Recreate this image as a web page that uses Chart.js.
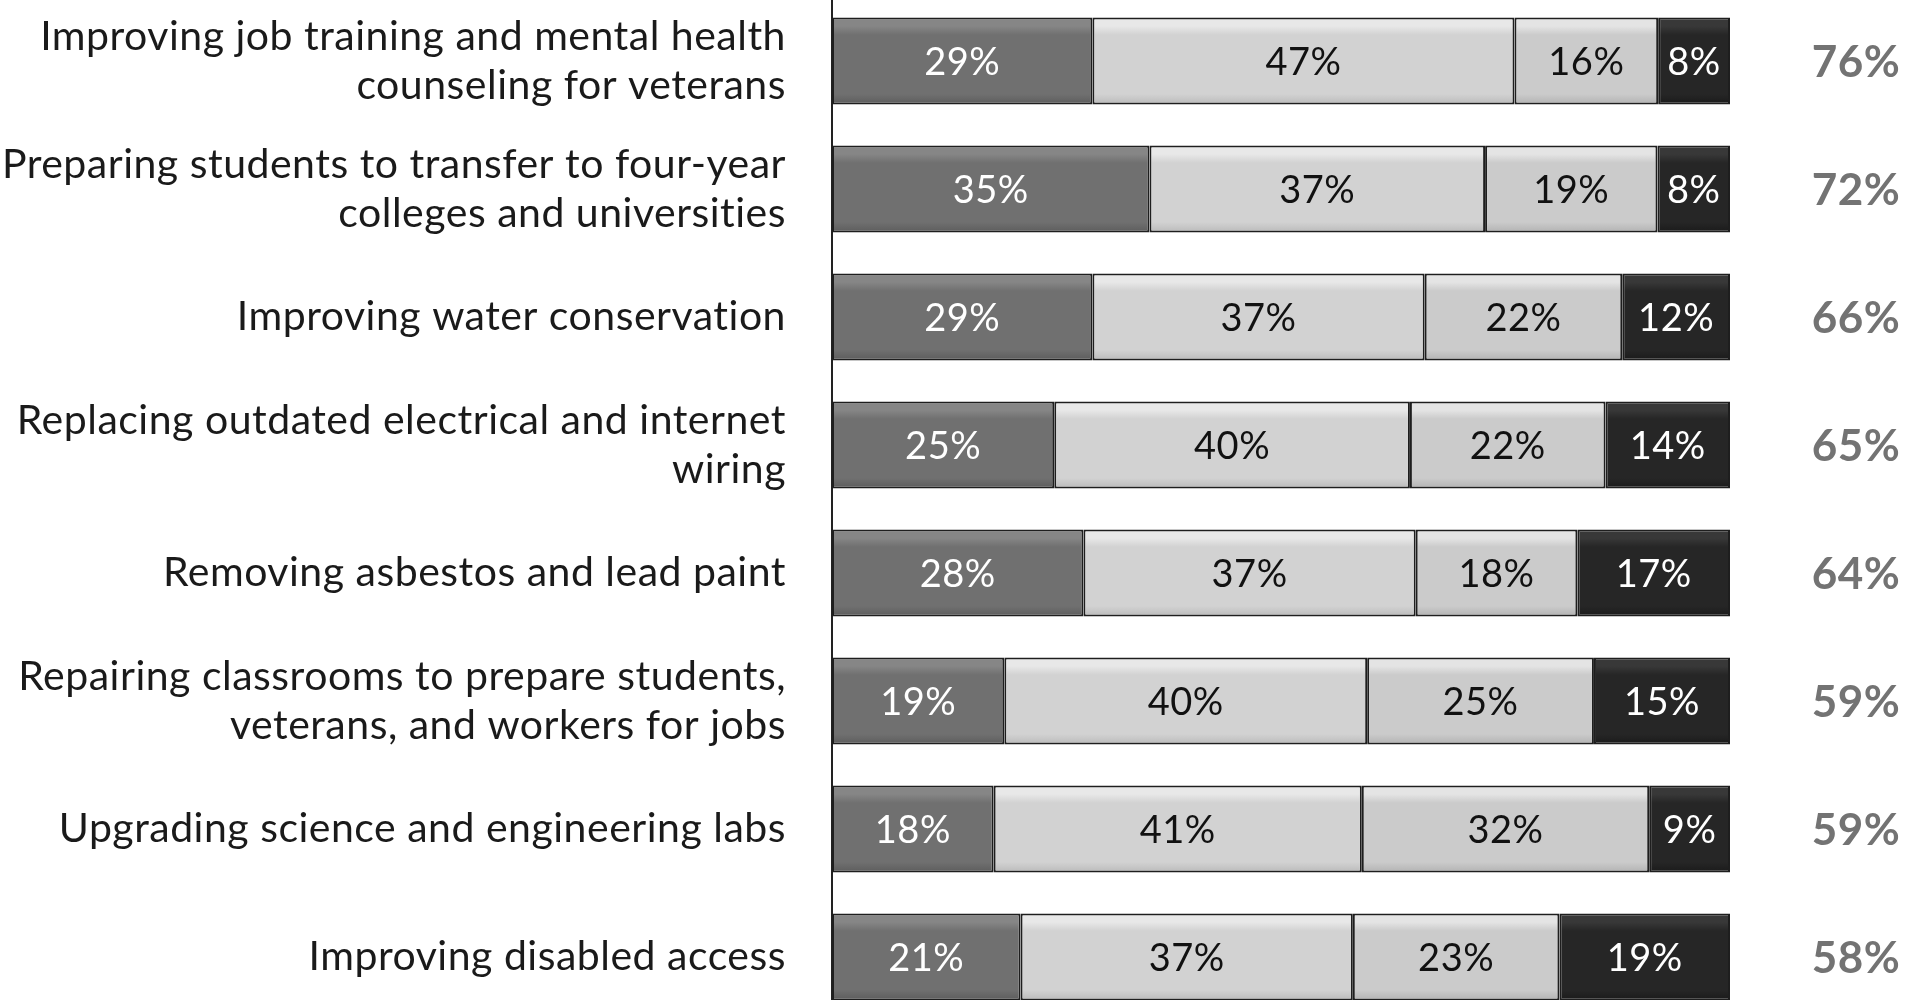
<!DOCTYPE html>
<html>
<head>
<meta charset="utf-8">
<script src="https://cdn.jsdelivr.net/npm/chart.js@4"></script>
<style>
  html, body { margin: 0; padding: 0; background: #fff; overflow: hidden; }
  #chart { position: absolute; left: 0; top: -3px; }
</style>
</head>
<body>
<canvas id="chart" width="1925" height="1024"></canvas>
<script>
const categories = [
  ["Improving job training and mental health", "counseling for veterans"],
  ["Preparing students to transfer to four-year", "colleges and universities"],
  "Improving water conservation",
  ["Replacing outdated electrical and internet", "wiring"],
  "Removing asbestos and lead paint",
  ["Repairing classrooms to prepare students,", "veterans, and workers for jobs"],
  "Upgrading science and engineering labs",
  "Improving disabled access",
];

const seriesNames = ["Extremely important", "Very important", "Somewhat important", "Not too important"];
const extremely = [29, 35, 29, 25, 28, 19, 18, 21];
const very = [47, 37, 37, 40, 37, 40, 41, 37];
const somewhat = [16, 19, 22, 22, 18, 25, 32, 23];
const notToo = [8, 8, 12, 14, 17, 15, 9, 19];
const topTwo = [76, 72, 66, 65, 64, 59, 59, 58];

const FONT = "Lato, 'Noto Sans', sans-serif";
const BAND = 128;
const BAR_H = 87;

// vertical shading repeated each row, gives the bevelled look
function makeFill(base, light, dark) {
  const c = document.createElement("canvas");
  c.width = 4;
  c.height = BAND;
  const g = c.getContext("2d");
  const top = (BAND - BAR_H) / 2;
  const grad = g.createLinearGradient(0, top, 0, top + BAR_H);
  grad.addColorStop(0, light);
  grad.addColorStop(0.1, light);
  grad.addColorStop(0.2, base);
  grad.addColorStop(0.88, base);
  grad.addColorStop(1, dark);
  g.fillStyle = grad;
  g.fillRect(0, 0, 4, BAND);
  return document.getElementById("chart").getContext("2d").createPattern(c, "repeat");
}

const fills = [
  makeFill("#707070", "#868686", "#5c5c5c"),
  makeFill("#d2d2d2", "#e8e8e8", "#bababa"),
  makeFill("#cbcbcb", "#e4e4e4", "#b2b2b2"),
  makeFill("#262626", "#383838", "#1a1a1a"),
];
const labelColors = ["#ffffff", "#111111", "#111111", "#ffffff"];

const raw = [extremely, very, somewhat, notToo];
const totals = categories.map((_, i) => raw.reduce((s, arr) => s + arr[i], 0));

const segmentLabels = {
  id: "segmentLabels",
  beforeDraw(chart) {
    // small spacing also turns off the Lato "ti" ligature
    chart.ctx.letterSpacing = "0.5px";
  },
  afterDatasetsDraw(chart) {
    const ctx = chart.ctx;
    ctx.save();
    ctx.textAlign = "center";
    ctx.textBaseline = "middle";
    ctx.font = "38px " + FONT;
    chart.data.datasets.forEach((ds, di) => {
      const meta = chart.getDatasetMeta(di);
      ctx.fillStyle = labelColors[di];
      meta.data.forEach((bar, i) => {
        const p = bar.getCenterPoint();
        ctx.fillText(raw[di][i] + "%", p.x, p.y + 2);
      });
    });
    // top-two totals on the right
    const meta0 = chart.getDatasetMeta(0);
    ctx.font = "bold 44px " + FONT;
    ctx.fillStyle = "#737373";
    meta0.data.forEach((bar, i) => {
      ctx.fillText(topTwo[i] + "%", 1856, bar.y + 2);
    });
    ctx.restore();
  },
};

new Chart(document.getElementById("chart"), {
  type: "bar",
  data: {
    labels: categories,
    datasets: raw.map((arr, di) => ({
      label: seriesNames[di],
      data: arr.map((v, i) => (v / totals[i]) * 100),
      backgroundColor: fills[di],
      borderColor: "#1e1e1e",
      borderWidth: 2,
      borderSkipped: false,
      categoryPercentage: BAR_H / BAND,
      barPercentage: 1,
    })),
  },
  options: {
    indexAxis: "y",
    responsive: false,
    animation: false,
    layout: { padding: { left: 0, right: 195, top: 0, bottom: 0 } },
    plugins: {
      legend: { display: false },
      tooltip: { enabled: false },
    },
    scales: {
      x: {
        stacked: true,
        min: 0,
        max: 100,
        display: false,
      },
      y: {
        stacked: true,
        afterFit(scale) {
          scale.width = 832;
          scale.paddingTop = 0;
          scale.paddingBottom = 0;
        },
        grid: { display: false, drawTicks: false },
        border: { display: true, color: "#222", width: 2 },
        ticks: {
          color: "#1a1a1a",
          padding: 46,
          font: { family: FONT, size: 41, lineHeight: 1.19 },
        },
      },
    },
  },
  plugins: [segmentLabels],
});
</script>
</body>
</html>
